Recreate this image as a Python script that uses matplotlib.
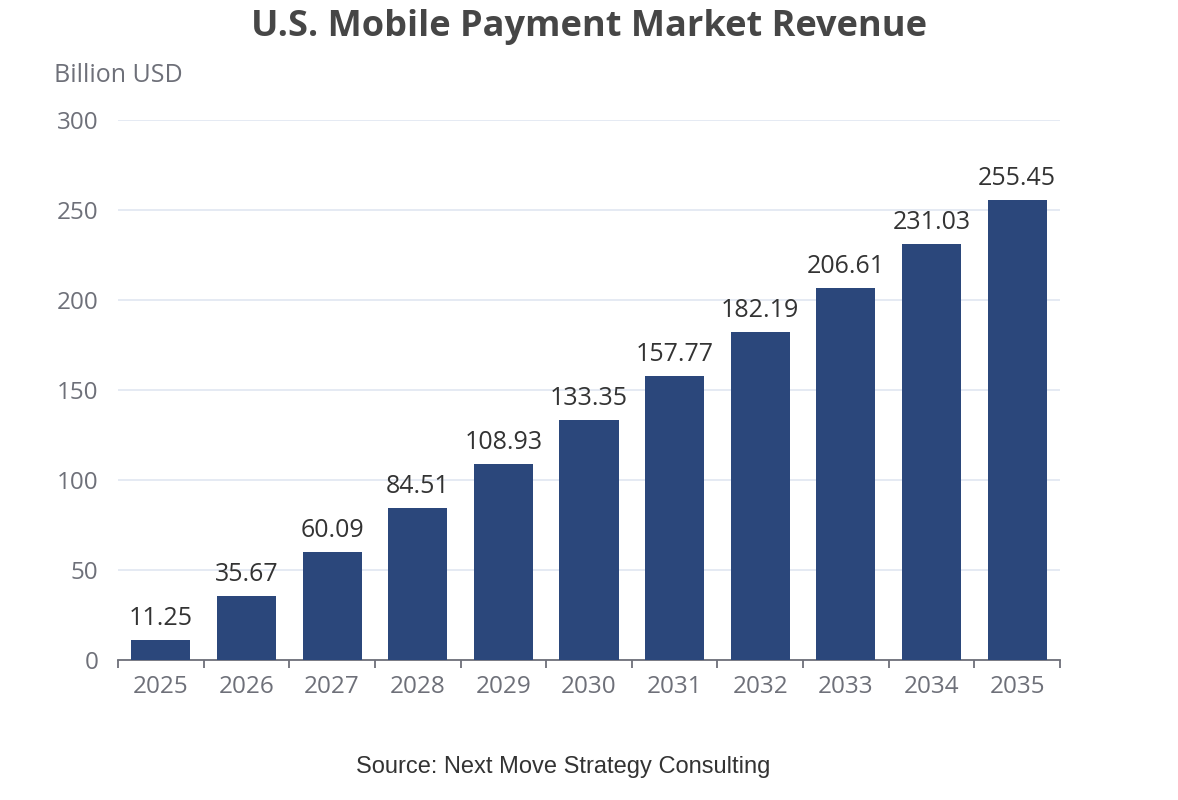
import matplotlib
matplotlib.use("Agg")
import matplotlib.pyplot as plt
import numpy as np

plt.rcParams['font.family'] = ['Open Sans', 'DejaVu Sans']

years = ['2025', '2026', '2027', '2028', '2029', '2030', '2031', '2032', '2033', '2034', '2035']
revenue = [11.25, 35.67, 60.09, 84.51, 108.93, 133.35, 157.77, 182.19, 206.61, 231.03, 255.45]
yticks = [0, 50, 100, 150, 200, 250, 300]

bar_color = '#2b477b'
axis_color = '#6e7079'
grid_color = '#e0e6f1'

fig = plt.figure(figsize=(11.78, 8), dpi=100, facecolor='white')
ax = fig.add_axes([0.1002, 0.175, 0.7996, 0.675])

x = np.arange(len(years))
ax.bar(x, revenue, width=0.69, color=bar_color, zorder=3)
for xi, v in zip(x, revenue):
    ax.text(xi, v + 5, f'{v:.2f}', ha='center', va='bottom', fontsize=18, color='#333333')

ax.set_xlim(-0.5, len(years) - 0.5)
ax.set_ylim(0, 300)
ax.set_yticks(yticks)
ax.set_yticklabels([str(t) for t in yticks])
ax.yaxis.grid(True, color=grid_color, linewidth=1.2, zorder=0)
ax.tick_params(axis='y', length=0, labelsize=17.5, labelcolor=axis_color, pad=14)

# category boundary ticks on x axis
ax.set_xticks(x)
ax.set_xticklabels(years)
ax.tick_params(axis='x', length=0, labelsize=17.5, labelcolor=axis_color, pad=11)
ax.set_xticks(np.arange(-0.5, len(years)), minor=True)
ax.tick_params(axis='x', which='minor', length=6, width=1.3, color=axis_color, direction='out')

for side in ['top', 'right', 'left']:
    ax.spines[side].set_visible(False)
ax.spines['bottom'].set_color(axis_color)
ax.spines['bottom'].set_linewidth(1.3)

fig.text(0.5, 0.966, 'U.S. Mobile Payment Market Revenue', ha='center', va='center',
         fontsize=26, fontweight='bold', color='#464646')
fig.text(0.046, 0.906, 'Billion USD', ha='left', va='center', fontsize=18, color=axis_color)
fig.text(0.478, 0.041, 'Source: Next Move Strategy Consulting', ha='center', va='center',
         fontsize=17, color='#333333', family=['Liberation Sans', 'DejaVu Sans'])

fig.savefig('out.png', dpi=100, facecolor='white')
